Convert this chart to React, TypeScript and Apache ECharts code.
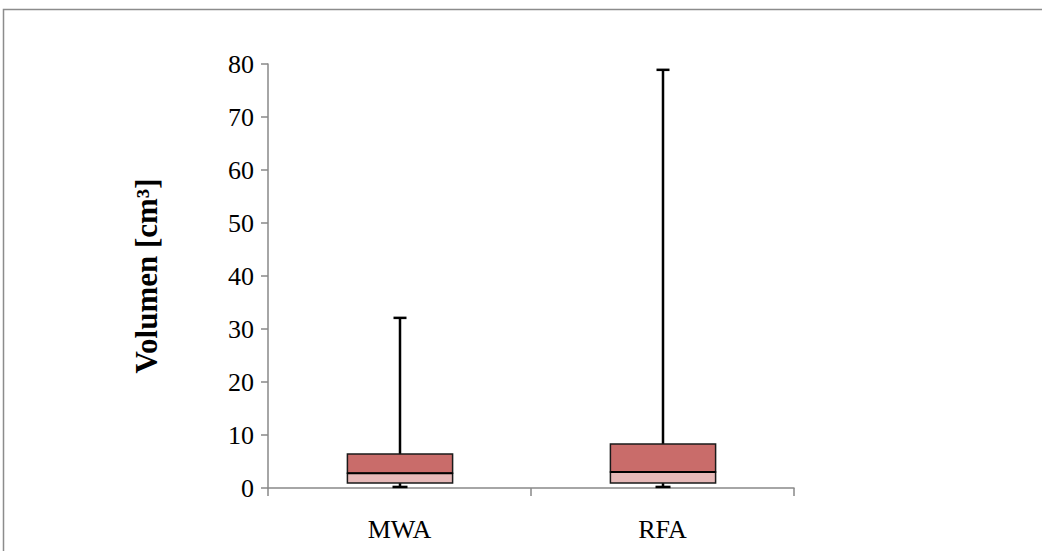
import React, { useEffect, useRef } from "react";
import * as echarts from "echarts";

const categories = ["MWA", "RFA"];
const minVals = [0.2, 0.2];
const q1Vals = [0.95, 0.95];
const medianVals = [2.8, 3.0];
const q3Vals = [6.4, 8.3];
const maxVals = [32.1, 78.9];
const yTicks = { min: 0, max: 80, interval: 10 };

export default function App() {
  const ref = useRef<HTMLDivElement>(null);
  useEffect(() => {
    if (!ref.current) return;
    const chart = echarts.init(ref.current, undefined, { renderer: "svg" });
    const data = categories.map((c, i) => [i, minVals[i], q1Vals[i], medianVals[i], q3Vals[i], maxVals[i]]);
    const font = "'Liberation Serif', 'Times New Roman', serif";
    chart.setOption({
      animation: false,
      backgroundColor: "#ffffff",
      grid: { left: 268, right: 248, top: 64, bottom: 63, containLabel: false },
      xAxis: {
        type: "category",
        data: categories,
        boundaryGap: true,
        axisLine: { lineStyle: { color: "#898989", width: 1.5 } },
        axisTick: { show: true, length: 8, inside: false, alignWithLabel: false, lineStyle: { color: "#898989", width: 1.5 } },
        axisLabel: { color: "#000", fontFamily: font, fontSize: 26, margin: 28 },
        splitLine: { show: false },
      },
      yAxis: {
        type: "value",
        min: yTicks.min,
        max: yTicks.max,
        interval: yTicks.interval,
        name: "Volumen [cm³]",
        nameLocation: "middle",
        nameRotate: 90,
        nameGap: 106,
        nameTextStyle: { color: "#000", fontFamily: font, fontSize: 31, fontWeight: "bold" },
        axisLine: { show: true, lineStyle: { color: "#898989", width: 1.5 } },
        axisTick: { show: true, length: 7, inside: false, lineStyle: { color: "#898989", width: 1.5 } },
        axisLabel: { color: "#000", fontFamily: font, fontSize: 26, margin: 14 },
        splitLine: { show: false },
      },
      graphic: [
        {
          type: "rect",
          shape: { x: 3.5, y: 9.5, width: 1200, height: 700 },
          style: { fill: "none", stroke: "#8c8c8c", lineWidth: 1.5 },
          silent: true,
          z: -10,
        },
      ],
      series: [
        {
          type: "custom",
          data,
          encode: { x: 0, y: [1, 2, 3, 4, 5] },
          renderItem: (params: any, api: any) => {
            const idx = api.value(0);
            const mn = api.coord([idx, api.value(1)]);
            const q1 = api.coord([idx, api.value(2)]);
            const md = api.coord([idx, api.value(3)]);
            const q3 = api.coord([idx, api.value(4)]);
            const mx = api.coord([idx, api.value(5)]);
            const bw = api.size([1, 0])[0] * 0.4;
            const cx = Math.round(mx[0]);
            const left = cx - bw / 2;
            const capW = 13;
            const lineBlack = { stroke: "#000", lineWidth: 2.5 };
            return {
              type: "group",
              children: [
                { type: "line", shape: { x1: cx, y1: q3[1], x2: cx, y2: mx[1] }, style: lineBlack },
                { type: "line", shape: { x1: cx - capW / 2, y1: mx[1], x2: cx + capW / 2, y2: mx[1] }, style: lineBlack },
                { type: "line", shape: { x1: cx, y1: q1[1], x2: cx, y2: mn[1] }, style: lineBlack },
                { type: "line", shape: { x1: cx - capW / 2 - 1, y1: mn[1], x2: cx + capW / 2 + 1, y2: mn[1] }, style: lineBlack },
                {
                  type: "rect",
                  shape: { x: left, y: md[1], width: bw, height: q1[1] - md[1] },
                  style: { fill: "#E6B8B7", stroke: "#1a1a1a", lineWidth: 1.5 },
                },
                {
                  type: "rect",
                  shape: { x: left, y: q3[1], width: bw, height: md[1] - q3[1] },
                  style: { fill: "#C96C6A", stroke: "#1a1a1a", lineWidth: 1.5 },
                },
                { type: "line", shape: { x1: left, y1: md[1], x2: left + bw, y2: md[1] }, style: { stroke: "#000", lineWidth: 2 } },
              ],
            };
          },
        },
      ],
    });
    return () => chart.dispose();
  }, []);
  return <div ref={ref} style={{ position: "fixed", left: 0, top: 0, width: 1042, height: 551, background: "#fff" }} />;
}
